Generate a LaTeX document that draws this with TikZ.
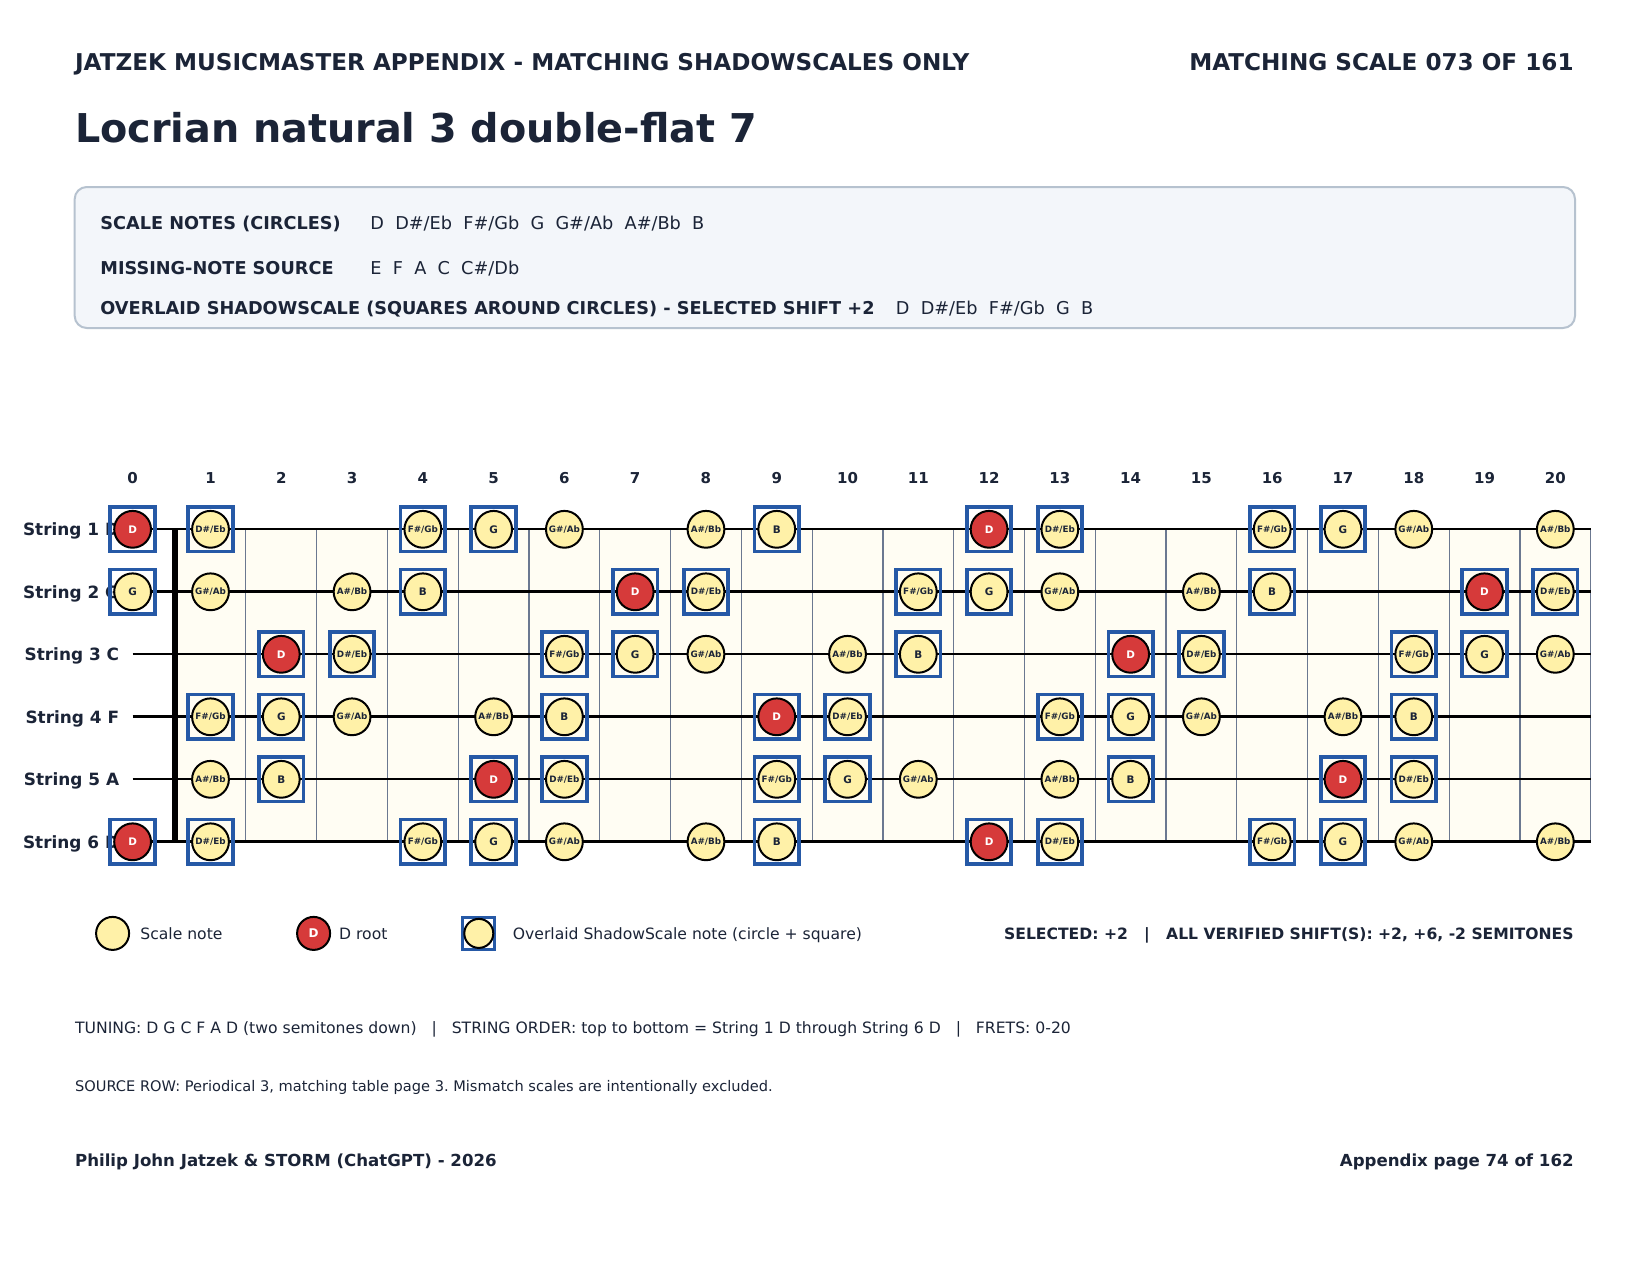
\documentclass[tikz,border=0pt]{standalone}
\usepackage{fontspec}
\setmainfont{DejaVu Sans}
\frenchspacing

\definecolor{ink}{HTML}{1B2437}
\definecolor{notefill}{HTML}{FFF1A8}
\definecolor{rootred}{HTML}{D63A3A}
\definecolor{sqblue}{HTML}{2659A6}
\definecolor{fretgrey}{HTML}{6B7890}
\definecolor{boardfill}{HTML}{FFFDF3}
\definecolor{boxfill}{HTML}{F3F6FA}
\definecolor{boxline}{HTML}{B6C2CF}

% pitch classes C=0 ... B=11
\def\scalemask{{0,0,1,1,0,0,1,1,1,0,1,1}}
\def\shadowmask{{0,0,1,1,0,0,1,1,0,0,0,1}}
\newcommand{\dualname}[1]{{\fontsize{4.4}{5}\selectfont #1}}
\newcommand{\notelabel}[1]{\ifcase#1 C\or\dualname{C\#/Db}\or D\or\dualname{D\#/Eb}\or E\or F\or\dualname{F\#/Gb}\or G\or\dualname{G\#/Ab}\or A\or\dualname{A\#/Bb}\or B\fi}

\begin{document}
\begin{tikzpicture}[x=0.5pt,y=-0.5pt,
  txt/.style={inner sep=0pt,text=ink},
  note/.style={circle,draw=black,line width=1pt,fill=notefill,minimum size=18.4pt,inner sep=0pt,text=ink,font=\fontsize{5.2}{6}\selectfont\bfseries},
  root/.style={note,fill=rootred,text=white},
  shadowbox/.style={draw=sqblue,line width=1.9pt,minimum size=22.25pt,inner sep=0pt}]
  \useasboundingbox (0,0) rectangle (1650,1275);
  \fill[white] (0,0) rectangle (1650,1275);

  % header
  \node[txt,anchor=base west,font=\fontsize{11.56}{14}\selectfont\bfseries] (head) at (74.7,70.5) {JATZEK MUSICMASTER APPENDIX - MATCHING SHADOWSCALES ONLY};
  \node[txt,anchor=base east,font=\fontsize{11.56}{14}\selectfont\bfseries] (count) at (1574,70.5) {MATCHING SCALE 073 OF 161};
  \node[txt,anchor=base west,font=\fontsize{19.85}{24}\selectfont\bfseries] (title) at (74.7,142.5) {Locrian natural 3 double-flat 7};

  % info box
  \draw[boxline,fill=boxfill,line width=1pt,rounded corners=6pt] (74.7,187) rectangle (1575,328);
  \node[txt,anchor=base west,font=\fontsize{8.85}{11}\selectfont\bfseries] (lab1) at (100,229.5) {SCALE NOTES (CIRCLES)};
  \node[txt,anchor=base west,font=\fontsize{8.85}{11}\selectfont] (val1) at (370,229.5) {D~~D\#/Eb~~F\#/Gb~~G~~G\#/Ab~~A\#/Bb~~B};
  \node[txt,anchor=base west,font=\fontsize{8.85}{11}\selectfont\bfseries] (lab2) at (100,274.5) {MISSING-NOTE SOURCE};
  \node[txt,anchor=base west,font=\fontsize{8.85}{11}\selectfont] (val2) at (370,274.5) {E~~F~~A~~C~~C\#/Db};
  \node[txt,anchor=base west,font=\fontsize{8.85}{11}\selectfont\bfseries] (lab3) at (100,314.2) {OVERLAID SHADOWSCALE (SQUARES AROUND CIRCLES) - SELECTED SHIFT +2};
  \node[txt,anchor=base west,font=\fontsize{8.85}{11}\selectfont] (val3) at (895.5,314.2) {D~~D\#/Eb~~F\#/Gb~~G~~B};

  % fretboard
  \fill[boardfill] (175.1,529.3) rectangle (1590.7,841.8);
  \foreach \k in {1,...,20}
    \draw[fretgrey,line width=0.6pt] ({175.1+\k*70.78},529.3) -- ({175.1+\k*70.78},841.8);
  \draw[black,line width=2.8pt] (175.1,529.3) -- (175.1,841.8);
  \foreach \s/\w in {1/0.9,2/1.4,3/0.9,4/1.4,5/0.9,6/1.4}
    \draw[line width=\w pt] (132.6,{529.3+(\s-1)*62.5}) -- (1590.7,{529.3+(\s-1)*62.5});
  \foreach \s/\tn in {1/D,2/G,3/C,4/F,5/A,6/D}
    \node[txt,anchor=base east,font=\fontsize{8.45}{10}\selectfont\bfseries] (str\s) at (119.5,{529.3+(\s-1)*62.5+6.2}) {String \s\ \tn};
  \foreach \f in {0,...,20} {
    \pgfmathsetmacro{\nx}{\f==0 ? 132.6 : 210.5+(\f-1)*70.78}
    \node[txt,font=\fontsize{7.5}{9}\selectfont\bfseries] (fret\f) at (\nx,477.7) {\f};
  }

  % notes: string / open pitch class
  \foreach \s/\open in {1/2,2/7,3/0,4/5,5/9,6/2} {
    \foreach \f in {0,...,20} {
      \pgfmathtruncatemacro{\pc}{mod(\open+\f,12)}
      \pgfmathtruncatemacro{\insc}{\scalemask[\pc]}
      \pgfmathtruncatemacro{\insh}{\shadowmask[\pc]}
      \pgfmathsetmacro{\nx}{\f==0 ? 132.6 : 210.5+(\f-1)*70.78}
      \pgfmathsetmacro{\ny}{529.3+(\s-1)*62.5}
      \ifnum\insh=1 \node[shadowbox] (sq\s-\f) at (\nx,\ny) {}; \fi
      \ifnum\insc=1
        \ifnum\pc=2 \node[root] (n\s-\f) at (\nx,\ny) {D};
        \else \node[note] (n\s-\f) at (\nx,\ny) {\notelabel{\pc}}; \fi
      \fi
    }
  }

  % legend
  \node[note,minimum size=16.5pt] (legscale) at (112.6,933.4) {};
  \node[txt,anchor=base west,font=\fontsize{7.8}{9}\selectfont] (legscaletxt) at (140,939.1) {Scale note};
  \node[root,minimum size=16.5pt,font=\fontsize{6}{7}\selectfont\bfseries] (legroot) at (313.6,933.4) {D};
  \node[txt,anchor=base west,font=\fontsize{7.8}{9}\selectfont] (legroottxt) at (338.8,939.1) {D root};
  \node[shadowbox,minimum size=16pt,line width=1.4pt] (legsq) at (478.8,933.4) {};
  \node[note,minimum size=14.5pt] (legshadow) at (478.8,933.4) {};
  \node[txt,anchor=base west,font=\fontsize{7.8}{9}\selectfont] (legshadowtxt) at (512.5,939.1) {Overlaid ShadowScale note (circle + square)};
  \node[txt,anchor=base east,font=\fontsize{7.8}{9}\selectfont\bfseries] (shifts) at (1574,939.1) {SELECTED: +2~~~|~~~ALL VERIFIED SHIFT(S): +2, +6, -2 SEMITONES};

  % footer
  \node[txt,anchor=base west,font=\fontsize{7.82}{9}\selectfont] (tuning) at (74.7,1033.7) {TUNING: D G C F A D (two semitones down)~~~|~~~STRING ORDER: top to bottom = String 1 D through String 6 D~~~|~~~FRETS: 0-20};
  \node[txt,anchor=base west,font=\fontsize{7.3}{8}\selectfont] (source) at (74.7,1091) {SOURCE ROW: Periodical 3, matching table page 3. Mismatch scales are intentionally excluded.};
  \node[txt,anchor=base west,font=\fontsize{8.3}{10}\selectfont\bfseries] (credit) at (74.7,1166.8) {Philip John Jatzek \& STORM (ChatGPT) - 2026};
  \node[txt,anchor=base east,font=\fontsize{8.3}{10}\selectfont\bfseries] (page) at (1574,1166.8) {Appendix page 74 of 162};
\end{tikzpicture}
\end{document}
